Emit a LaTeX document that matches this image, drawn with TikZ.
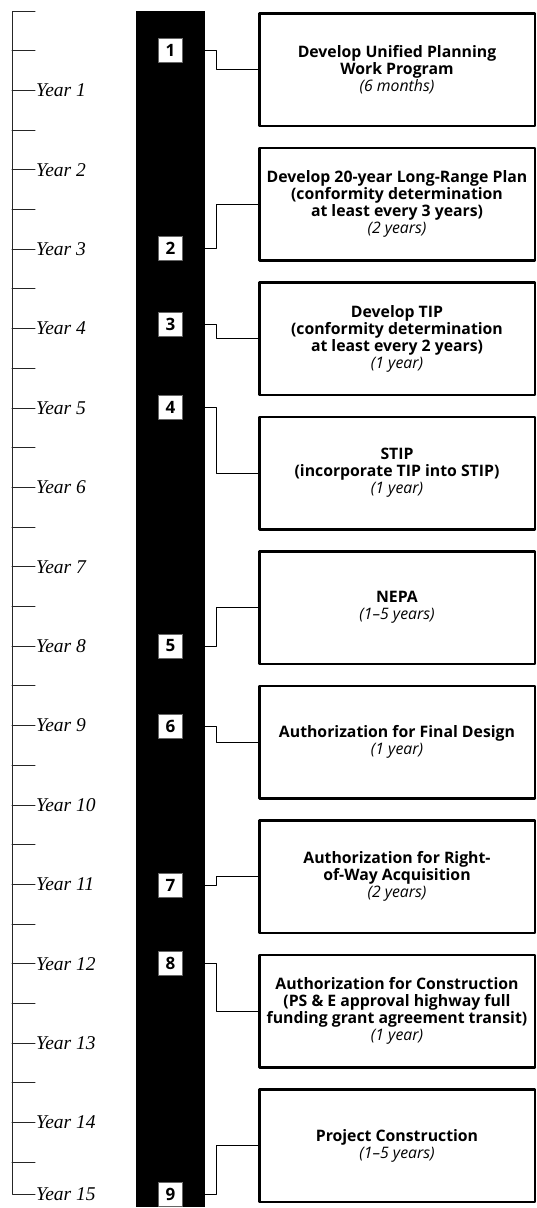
\documentclass[tikz,border=0pt]{standalone}
\usepackage{fontspec}
\setmainfont{Open Sans}
\newfontfamily\yearfont{Liberation Serif}
\newcommand\stepdur[1]{{\mdseries\itshape #1}}
\begin{document}
\begin{tikzpicture}[x=1pt,y=-1pt,line cap=round,line join=round,
  axisline/.style={line width=1pt,black!85},
  yearlabel/.style={anchor=west,inner sep=0pt,font=\yearfont\itshape\fontsize{19.5}{21}\selectfont},
  numbox/.style={draw=black!60,line width=0.7pt,fill=white,minimum size=24pt,inner sep=0pt,
    font=\bfseries\fontsize{17}{17}\selectfont},
  stepbox/.style={draw,line width=2.5pt,minimum width=275.5pt,minimum height=112.5pt,
    align=center,inner sep=1pt,font=\bfseries\fontsize{15.8}{17}\selectfont},
  link/.style={line width=1pt}]
  \useasboundingbox (0,0) rectangle (536,1208);
  \draw[axisline] (35,11) -- (12,11) -- (12,1194) -- (35,1194);
  \foreach \k in {1,...,29}
    \draw[axisline] (12,11+39.7*\k) -- (35,11+39.7*\k);
  \foreach \n in {1,...,14}
    \node[yearlabel] (year\n) at (36,11+79.4*\n) {Year \n};
  \node[yearlabel] (year15) at (36,1194) {Year 15};
  \node[fill=black,minimum width=69pt,minimum height=1196pt,inner sep=0pt] (bar) at (170.5,609) {};
  \foreach \i/\y in {1/50,2/248,3/324,4/407,5/646,6/726,7/885,8/963,9/1194}
    \node[numbox] (num\i) at (170.5,\y) {\i};
  \node[stepbox] (step1) at (397,69.5) {Develop Unified Planning\\Work Program\\\stepdur{(6 months)}};
  \node[stepbox] (step2) at (397,204) {Develop 20-year Long-Range Plan\\(conformity determination\\at least every 3 years)\\\stepdur{(2 years)}};
  \node[stepbox] (step3) at (397,338.5) {Develop TIP\\(conformity determination\\at least every 2 years)\\\stepdur{(1 year)}};
  \node[stepbox] (step4) at (397,473) {STIP\\(incorporate TIP into STIP)\\\stepdur{(1 year)}};
  \node[stepbox] (step5) at (397,607.5) {NEPA\\\stepdur{(1--5 years)}};
  \node[stepbox] (step6) at (397,742) {Authorization for Final Design\\\stepdur{(1 year)}};
  \node[stepbox] (step7) at (397,876.5) {Authorization for Right-\\of-Way Acquisition\\\stepdur{(2 years)}};
  \node[stepbox] (step8) at (397,1011) {Authorization for Construction\\(PS \& E approval highway full\\funding grant agreement transit)\\\stepdur{(1 year)}};
  \node[stepbox] (step9) at (397,1145.5) {Project Construction\\\stepdur{(1--5 years)}};
  \foreach \i in {1,...,9}
    \draw[link] (num\i.east -| bar.east) -- ++(11,0) |- (step\i.west);
\end{tikzpicture}
\end{document}
